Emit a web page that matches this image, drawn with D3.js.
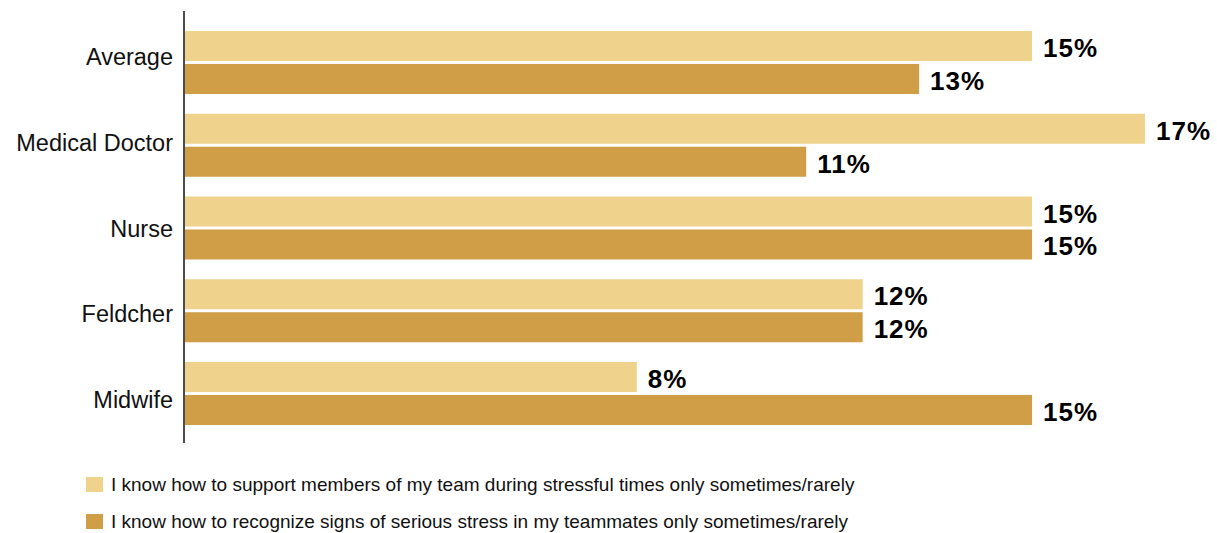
<!DOCTYPE html>
<html>
<head>
<meta charset="utf-8">
<script src="https://cdn.jsdelivr.net/npm/d3@7"></script>
<style>
  html, body { margin: 0; padding: 0; background: #fff; }
  svg { display: block; font-family: "Liberation Sans", Arial, Helvetica, sans-serif; }
</style>
</head>
<body>
<svg id="chart" width="1217" height="533"></svg>
<script>
// Professions shown as rows, top to bottom
const categories = ["Average", "Medical Doctor", "Nurse", "Feldcher", "Midwife"];

// Share (%) answering "only sometimes/rarely"
const supportValues   = [15, 17, 15, 12, 8];
const recognizeValues = [13, 11, 15, 12, 15];

const seriesNames = [
  "I know how to support members of my team during stressful times only sometimes/rarely",
  "I know how to recognize signs of serious stress in my teammates only sometimes/rarely"
];
const seriesColors = ["#efd28b", "#cf9e46"];

const series = [supportValues, recognizeValues];
const rows = categories.map((c, i) => ({
  category: c,
  values: series.map((vals, s) => ({ s, value: vals[i] }))
}));

const svg = d3.select("#chart");

// Scales
const x = d3.scaleLinear().domain([0, 17]).range([185, 1145]);
const y = d3.scaleBand().domain(categories).range([31, 425]).paddingInner(0.239).paddingOuter(0);
const ySub = d3.scaleBand().domain([0, 1]).range([0, y.bandwidth()]).paddingInner(0.09);
const yLabel = d3.scalePoint().domain(categories).range([57, 400]);

// Bars
const groups = svg.append("g")
  .selectAll("g")
  .data(rows)
  .join("g")
  .attr("transform", d => `translate(0,${y(d.category)})`);

groups.selectAll("rect")
  .data(d => d.values)
  .join("rect")
  .attr("x", x(0))
  .attr("y", d => ySub(d.s))
  .attr("width", d => x(d.value) - x(0))
  .attr("height", ySub.bandwidth())
  .attr("fill", d => seriesColors[d.s]);

// Value labels
groups.selectAll("text")
  .data(d => d.values)
  .join("text")
  .attr("x", d => x(d.value) + 11)
  .attr("y", d => ySub(d.s) + ySub.bandwidth() / 2 + 11)
  .attr("font-size", 26)
  .attr("font-weight", "bold")
  .attr("letter-spacing", 1)
  .attr("fill", "#000")
  .text(d => d.value + "%");

// Category axis
const axis = svg.append("g")
  .attr("transform", `translate(184,0)`)
  .call(d3.axisLeft(yLabel).tickSize(0).tickPadding(11));
axis.select(".domain").remove();
axis.selectAll("text")
  .attr("font-size", 23.5)
  .attr("font-family", "\"Liberation Sans\", Arial, sans-serif")
  .attr("fill", "#111");

// Vertical baseline of the bars
svg.append("line")
  .attr("x1", 184).attr("x2", 184)
  .attr("y1", 11).attr("y2", 443)
  .attr("stroke", "#111")
  .attr("stroke-width", 1.5);

// Legend
const legend = svg.append("g")
  .selectAll("g")
  .data(seriesNames)
  .join("g")
  .attr("transform", (d, i) => `translate(86,${477 + i * 37})`);

legend.append("rect")
  .attr("width", 17)
  .attr("height", 15)
  .attr("fill", (d, i) => seriesColors[i]);

legend.append("text")
  .attr("x", 25)
  .attr("y", 14)
  .attr("font-size", 19)
  .attr("fill", "#111")
  .text(d => d);
</script>
</body>
</html>
